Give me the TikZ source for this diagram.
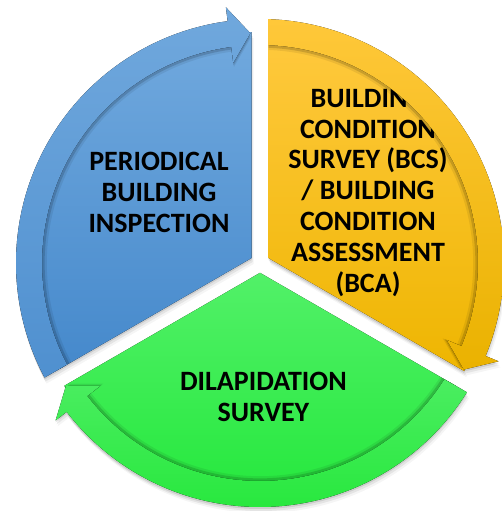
\documentclass[tikz,border=0pt]{standalone}
\usepackage{fontspec}
\setmainfont{Carlito}
\definecolor{bluetop}{RGB}{113,169,222}
\definecolor{bluebot}{RGB}{68,136,203}
\definecolor{bbandtop}{RGB}{112,168,221}
\definecolor{bbandbot}{RGB}{78,143,207}
\definecolor{orgtop}{RGB}{255,201,62}
\definecolor{orgbot}{RGB}{238,181,0}
\definecolor{obandtop}{RGB}{255,200,58}
\definecolor{obandbot}{RGB}{234,178,0}
\definecolor{grntop}{RGB}{84,241,106}
\definecolor{grnbot}{RGB}{32,231,56}
\definecolor{gbandtop}{RGB}{78,238,100}
\definecolor{gbandbot}{RGB}{40,232,62}
\def\rBody{231pt}
\def\rOut{244pt}
\def\rIn{218pt}
\def\rHout{258pt}
\def\rHin{202pt}
\def\rTip{230pt}
\newcommand\clipB{(-8.5,4.907) -- (-8.5,300) -- (-300,300) -- (-300,-163.4) -- cycle}
\newcommand\clipO{(8.5,4.907) -- (8.5,300) -- (300,300) -- (300,-163.4) -- cycle}
\newcommand\clipG{(0,-9.815) -- (-300,-183) -- (-300,-300) -- (300,-300) -- (300,-183) -- cycle}
\newcommand\bodyB{(0,0) -- (210:\rBody) arc[start angle=210,end angle=90,radius=\rBody] -- cycle}
\newcommand\bodyO{(0,0) -- (90:\rBody) arc[start angle=90,end angle=-30,radius=\rBody] -- cycle}
\newcommand\bodyG{(0,0) -- (-30:\rBody) arc[start angle=-30,end angle=-150,radius=\rBody] -- cycle}
\newcommand\bandpath[3]{(#1:\rOut) arc[start angle=#1,end angle=#2,radius=\rOut] -- (#2:\rHout) -- (#3:\rTip) -- (#2:\rHin) -- (#2:\rIn) arc[start angle=#2,end angle=#1,radius=\rIn] -- cycle}
\newcommand\bandB{\bandpath{212}{97.6}{92.4}}
\newcommand\bandO{\bandpath{92}{-22.4}{-27.6}}
\newcommand\bandG{\bandpath{-28}{-142.4}{-147.6}}
\tikzset{
  lbl/.style={align=center,inner sep=0pt,text=black,
    font=\fontsize{28}{30.8}\selectfont\bfseries},
  shd/.style={fill=black,opacity=#1}
}
\begin{document}
\begin{tikzpicture}[x=1pt,y=1pt]
\useasboundingbox (-260,-248) rectangle (241,263);
% outer soft shadows
\foreach \dx/\dy/\op in {0/-2/0.10,1/-4/0.07,2/-6/0.04}{
  \begin{scope}[shift={(\dx,\dy)}]
    \begin{scope}\clip \clipB; \fill[shd=\op] \bodyB \bandB; \end{scope}
    \begin{scope}\clip \clipO; \fill[shd=\op] \bodyO \bandO; \end{scope}
    \begin{scope}\clip \clipG; \fill[shd=\op] \bodyG \bandG; \end{scope}
  \end{scope}
}
% bodies
\begin{scope}\clip \clipB; \fill[top color=bluetop,bottom color=bluebot] \bodyB; \end{scope}
\begin{scope}\clip \clipO; \fill[top color=orgtop,bottom color=orgbot] \bodyO; \end{scope}
\begin{scope}\clip \clipG; \fill[top color=grntop,bottom color=grnbot] \bodyG; \end{scope}
% labels
\node[lbl] (blue) at (-101,70.3) {PERIODICAL\\BUILDING\\INSPECTION};
\node[lbl] (orange) at (108,70.3) {BUILDING\\CONDITION\\SURVEY (BCS)\\/ BUILDING\\CONDITION\\ASSESSMENT\\(BCA)};
\node[lbl] (green) at (3.4,-134.2) {DILAPIDATION\\SURVEY};
% arrow bands with inward shadows
\begin{scope}\clip \clipB;
  \foreach \s/\op in {0.988/0.14,0.978/0.07}{\begin{scope}[scale=\s]\fill[shd=\op] \bandB;\end{scope}}
  \fill[top color=bbandtop,bottom color=bbandbot] \bandB;
\end{scope}
\begin{scope}\clip \clipO;
  \foreach \s/\op in {0.988/0.14,0.978/0.07}{\begin{scope}[scale=\s]\fill[shd=\op] \bandO;\end{scope}}
  \fill[top color=obandtop,bottom color=obandbot] \bandO;
\end{scope}
\begin{scope}\clip \clipG;
  \foreach \s/\op in {0.988/0.14,0.978/0.07}{\begin{scope}[scale=\s]\fill[shd=\op] \bandG;\end{scope}}
  \fill[top color=gbandtop,bottom color=gbandbot] \bandG;
\end{scope}
\end{tikzpicture}
\end{document}
